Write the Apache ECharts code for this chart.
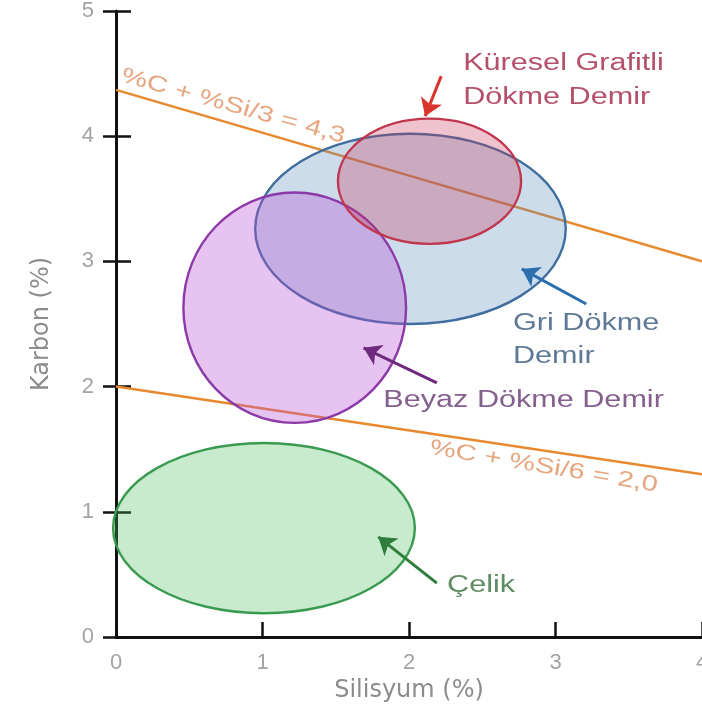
<!DOCTYPE html>
<html>
<head>
<meta charset="utf-8">
<script src="https://cdn.jsdelivr.net/npm/echarts@6/dist/echarts.min.js"></script>
<style>
html,body{margin:0;padding:0;background:#fff;}
#chart{width:702px;height:728px;}
</style>
</head>
<body>
<div id="chart"></div>
<script>
// Axis ticks
const xTicks = [0, 1, 2, 3, 4];
const yTicks = [0, 1, 2, 3, 4, 5];

// Regions (ellipses): centre and half-extent in data units (Si %, C %)
const regionNames = ['Çelik', 'Gri Dökme Demir', 'Beyaz Dökme Demir', 'Küresel Grafitli Dökme Demir'];
const regionCenterSi = [1.01, 2.01, 1.22, 2.14];
const regionCenterC = [0.87, 3.26, 2.63, 3.64];
const regionHalfSi = [1.03, 1.06, 0.76, 0.625];
const regionHalfC = [0.68, 0.76, 0.92, 0.50];

// Boundary lines
const line43Si = [0, 4];
const line43C = [4.37, 3.0];
const line20Si = [0, 4];
const line20C = [2.0, 1.30];

// Arrows
const arrowFromSi = [2.19, 3.21, 2.19, 2.22];
const arrowFromC = [0.43, 2.66, 2.03, 4.48];
const arrowToSi = [1.79, 2.77, 1.69, 2.11];
const arrowToC = [0.80, 2.94, 2.31, 4.16];

// Annotation texts
const noteTexts = ['Küresel Grafitli', 'Dökme Demir', 'Gri Dökme', 'Demir', 'Beyaz Dökme Demir', 'Çelik', '%C + %Si/3 = 4,3', '%C + %Si/6 = 2,0'];
const noteSi = [2.37, 2.37, 2.71, 2.71, 1.825, 2.26, 0.80, 2.92];
const noteC = [4.58, 4.31, 2.50, 2.24, 1.885, 0.41, 4.24, 1.36];
const noteAngle = [0, 0, 0, 0, 0, 0, -15.5, -9.5];

// Styles
const regionFill = ['rgba(72,188,88,0.30)', 'rgba(88,138,188,0.30)', 'rgba(184,84,212,0.35)', 'rgba(198,55,88,0.30)'];
const regionStroke = ['#3a9a50', '#3f6e9e', '#8b3aa8', '#c0364e'];
const arrowColor = ['#2e7d3a', '#2b6fae', '#6d2a7f', '#d9342b'];
const noteColor = ['#b5506a', '#b5506a', '#5f7896', '#5f7896', '#85608f', '#5f8c64', '#e6a680', '#e6a680'];
const noteAlign = ['left', 'left', 'left', 'left', 'left', 'left', 'center', 'center'];
const noteSize = [23, 23, 23, 23, 23, 23, 22, 22];

const chart = echarts.init(document.getElementById('chart'), null, {renderer: 'canvas'});

const ellipseData = regionNames.map((n, i) => [regionCenterSi[i], regionCenterC[i], regionHalfSi[i], regionHalfC[i], i]);
const noteData = noteTexts.map((t, i) => [noteSi[i], noteC[i], i]);
const arrowData = arrowFromSi.map((v, i) => ({
  coords: [[arrowFromSi[i], arrowFromC[i]], [arrowToSi[i], arrowToC[i]]],
  lineStyle: {color: arrowColor[i]}
}));

const axisColor = '#111';
const tickFont = {color: '#a3a3a3', fontSize: 22, fontFamily: 'Liberation Sans'};

chart.setOption({
  backgroundColor: '#fff',
  animation: false,
  grid: {left: 116, right: 0, top: 11, bottom: 91, containLabel: false, outerBoundsMode: 'none'},
  xAxis: [{
    type: 'value', min: xTicks[0], max: xTicks[xTicks.length - 1], interval: 1,
    position: 'bottom',
    name: 'Silisyum (%)', nameLocation: 'middle', nameGap: 42,
    nameTextStyle: {color: '#8c8c8c', fontSize: 24, fontFamily: 'DejaVu Sans'},
    axisLine: {show: true, lineStyle: {color: axisColor, width: 3}},
    axisTick: {show: true, inside: true, length: 15, lineStyle: {color: axisColor, width: 2.5}},
    axisLabel: Object.assign({margin: 15}, tickFont),
    splitLine: {show: false}
  }, {
    type: 'value', min: xTicks[0], max: xTicks[xTicks.length - 1], interval: 1,
    position: 'top',
    axisLine: {show: true, lineStyle: {color: axisColor, width: 3}},
    axisTick: {show: false}, axisLabel: {show: false}, splitLine: {show: false}
  }],
  yAxis: [{
    type: 'value', min: yTicks[0], max: yTicks[yTicks.length - 1], interval: 1,
    position: 'left',
    name: 'Karbon (%)', nameLocation: 'middle', nameGap: 62,
    nameTextStyle: {color: '#8c8c8c', fontSize: 24, fontFamily: 'DejaVu Sans'},
    axisLine: {show: true, lineStyle: {color: axisColor, width: 3}},
    axisTick: {show: true, inside: true, length: 15, lineStyle: {color: axisColor, width: 2.5}},
    axisLabel: Object.assign({margin: 22}, tickFont),
    splitLine: {show: false}
  }, {
    type: 'value', min: yTicks[0], max: yTicks[yTicks.length - 1], interval: 1,
    position: 'right',
    axisLine: {show: false},
    axisTick: {show: true, inside: true, length: 13, lineStyle: {color: axisColor, width: 2.5}},
    axisLabel: {show: false}, splitLine: {show: false}
  }],
  series: [
    {
      type: 'line', z: 1, symbol: 'none', silent: true,
      data: line43Si.map((x, i) => [x, line43C[i]]),
      lineStyle: {color: '#e8892e', width: 2.5}
    },
    {
      type: 'line', z: 1, symbol: 'none', silent: true,
      data: line20Si.map((x, i) => [x, line20C[i]]),
      lineStyle: {color: '#e8892e', width: 2.5}
    },
    {
      type: 'custom', z: 2, silent: true,
      data: ellipseData,
      clip: false,
      renderItem: function (params, api) {
        const c = api.coord([api.value(0), api.value(1)]);
        const s = api.size([api.value(2), api.value(3)]);
        const k = api.value(4);
        return {
          type: 'ellipse',
          shape: {cx: c[0], cy: c[1], rx: s[0], ry: s[1]},
          style: {fill: regionFill[k], stroke: regionStroke[k], lineWidth: 2.4}
        };
      }
    },
    {
      type: 'lines', z: 3, coordinateSystem: 'cartesian2d', silent: true,
      symbol: ['none', 'arrow'], symbolSize: 17,
      lineStyle: {width: 3, opacity: 1},
      data: arrowData
    },
    {
      type: 'custom', z: 4, silent: true,
      data: noteData,
      clip: false,
      renderItem: function (params, api) {
        const c = api.coord([api.value(0), api.value(1)]);
        const k = api.value(2);
        return {
          type: 'text',
          x: c[0], y: c[1],
          rotation: noteAngle[k] * Math.PI / 180,
          scaleX: 1.33,
          style: {
            text: noteTexts[k],
            fill: noteColor[k],
            font: noteSize[k] + 'px "Liberation Sans", Arial, sans-serif',
            align: noteAlign[k],
            verticalAlign: 'middle'
          }
        };
      }
    }
  ]
});
</script>
</body>
</html>
